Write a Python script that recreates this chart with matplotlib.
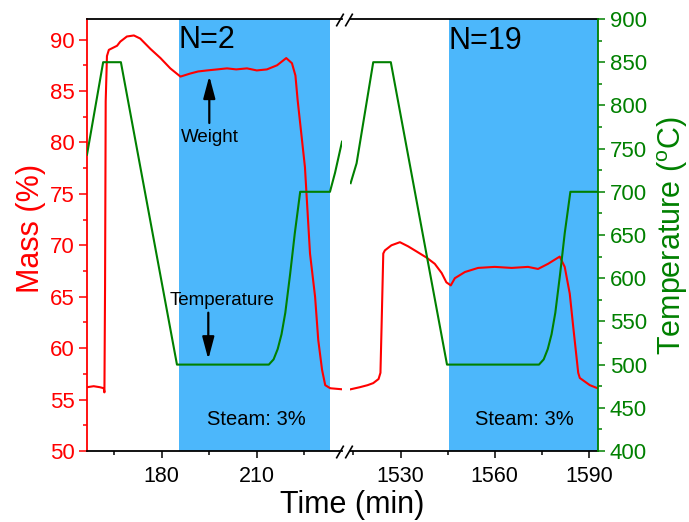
import matplotlib
matplotlib.use('Agg')
import matplotlib.pyplot as plt
from matplotlib.patches import FancyArrowPatch
from matplotlib.lines import Line2D
from matplotlib.ticker import MultipleLocator, FixedLocator

plt.rcParams['font.family'] = ['Liberation Sans', 'DejaVu Sans']
plt.rcParams['mathtext.fontset'] = 'custom'
plt.rcParams['mathtext.rm'] = 'Liberation Sans'
plt.rcParams['mathtext.it'] = 'Liberation Sans:italic'

# ---------------- data ----------------
# left segment (cycle N=2)
mass_t_left = [156.4, 158.5, 160.5, 161.7, 161.9, 162.1, 162.3, 162.7, 163.3, 165.9, 166.9,
               169.0, 171.2, 173.2, 176.4, 179.6, 182.7, 185.9, 189.0, 191.5, 194.3, 197.5,
               200.6, 203.5, 206.9, 210.0, 213.2, 216.4, 219.3, 221.1, 222.2, 222.9, 224.0,
               225.2, 226.8, 228.4, 229.4, 230.6, 231.6, 233.2, 236.9]
mass_left = [56.2, 56.3, 56.2, 56.1, 55.7, 66.0, 84.0, 88.4, 89.0, 89.4, 89.8,
             90.3, 90.4, 90.1, 89.1, 88.2, 87.2, 86.4, 86.7, 86.9, 87.0, 87.1,
             87.2, 87.1, 87.2, 87.0, 87.1, 87.5, 88.2, 87.7, 86.5, 84.1, 81.0,
             77.6, 69.2, 65.0, 60.8, 57.9, 56.4, 56.1, 56.0]
temp_t_left = [156.4, 161.5, 167.1, 184.8, 213.8, 215.3, 216.6, 217.8, 219.0, 220.5, 222.0,
               223.7, 233.1, 234.7, 236.9]
temp_left = [743, 850, 850, 500, 500, 506, 518, 535, 560, 604, 652, 700, 700, 722, 758]

# right segment (cycle N=19)
mass_t_right = [1514.1, 1517.0, 1519.5, 1521.3, 1523.0, 1523.6, 1523.95, 1524.5, 1525.0,
                1527.1, 1529.8, 1532.4, 1535.1, 1538.3, 1540.9, 1543.1, 1544.6, 1546.0,
                1547.3, 1550.5, 1554.7, 1560.0, 1565.4, 1570.6, 1573.8, 1577.0, 1580.7,
                1582.3, 1583.9, 1585.0, 1586.6, 1587.1, 1590.3, 1592.8]
mass_right = [56.0, 56.2, 56.4, 56.6, 57.0, 57.6, 62.0, 69.2, 69.5,
              70.0, 70.3, 69.9, 69.4, 68.8, 68.2, 67.3, 66.4, 66.1,
              66.8, 67.4, 67.8, 67.9, 67.8, 67.9, 67.7, 68.2, 68.9,
              67.9, 65.3, 62.1, 57.6, 57.1, 56.4, 56.1]
temp_t_right = [1514.1, 1516.0, 1521.3, 1526.9, 1544.8, 1574.1, 1575.6, 1576.9, 1578.1,
                1579.3, 1580.8, 1582.3, 1584.1, 1592.8]
temp_right = [710, 733, 850, 850, 500, 500, 506, 518, 535, 560, 604, 652, 700, 700]

steam_left = (185.5, 233.1)
steam_right = (1545.4, 1592.9)

xlim_left = (156.4, 236.9)
xlim_right = (1513.9, 1592.9)
mass_lim = (50, 92)
temp_lim = (400, 900)
mass_ticks = [50, 55, 60, 65, 70, 75, 80, 85, 90]
temp_ticks = [400, 450, 500, 550, 600, 650, 700, 750, 800, 850, 900]
xticks_left = [180, 210]
xticks_left_minor = [165, 195, 225]
xticks_right = [1530, 1560, 1590]
xticks_right_minor = [1515, 1545, 1575]

RED = '#ff0000'
GREEN = '#008000'
BLUE = '#4cb7fb'

# ---------------- figure ----------------
W, H = 689, 522
fig = plt.figure(figsize=(W / 100, H / 100), dpi=100)


def fx(x):
    return x / W


def fy(y):
    return 1 - y / H


L, R = 87, 342
R2L, R2R = 350, 598
T, B = 19, 451

axL = fig.add_axes([fx(L), fy(B), (R - L) / W, (B - T) / H])
axR = fig.add_axes([fx(R2L), fy(B), (R2R - R2L) / W, (B - T) / H])
axL2 = axL.twinx()
axR2 = axR.twinx()

for ax in (axL, axR):
    ax.set_ylim(*mass_lim)
for ax in (axL2, axR2):
    ax.set_ylim(*temp_lim)
axL.set_xlim(*xlim_left)
axR.set_xlim(*xlim_right)

axL.axvspan(*steam_left, color=BLUE, lw=0, zorder=0)
axR.axvspan(*steam_right, color=BLUE, lw=0, zorder=0)

axL.plot(mass_t_left, mass_left, color=RED, lw=1.5)
axR.plot(mass_t_right, mass_right, color=RED, lw=1.5)
axL2.plot(temp_t_left, temp_left, color=GREEN, lw=1.5)
axR2.plot(temp_t_right, temp_right, color=GREEN, lw=1.5)

SW = 1.3
# spines
for ax in (axL, axR, axL2, axR2):
    for s in ax.spines.values():
        s.set_visible(False)
axL.spines['left'].set_visible(True)
axL.spines['left'].set_color(RED)
axL.spines['left'].set_linewidth(SW)
for ax in (axL, axR):
    for side in ('top', 'bottom'):
        ax.spines[side].set_visible(True)
        ax.spines[side].set_color('black')
        ax.spines[side].set_linewidth(SW)
axR2.spines['right'].set_visible(True)
axR2.spines['right'].set_color(GREEN)
axR2.spines['right'].set_linewidth(SW)

# ticks
axL.yaxis.set_major_locator(FixedLocator(mass_ticks))
axL.yaxis.set_minor_locator(MultipleLocator(2.5))
axL.tick_params(axis='y', which='major', direction='out', length=6, width=1.1,
                colors=RED, labelsize=16, pad=3)
axL.tick_params(axis='y', which='minor', direction='out', length=3, width=1.1, colors=RED)
axL.tick_params(axis='y', right=False, which='both')

axR2.yaxis.set_major_locator(FixedLocator(temp_ticks))
axR2.yaxis.set_minor_locator(MultipleLocator(25))
axR2.tick_params(axis='y', which='major', direction='out', length=5, width=1.1,
                 colors=GREEN, labelsize=16, pad=3.5)
axR2.tick_params(axis='y', which='minor', direction='out', length=3, width=1.1, colors=GREEN)

axL2.tick_params(axis='y', which='both', right=False, labelright=False, left=False)
axR.tick_params(axis='y', which='both', left=False, labelleft=False, right=False)

axL.xaxis.set_major_locator(FixedLocator(xticks_left))
axL.xaxis.set_minor_locator(FixedLocator(xticks_left_minor))
axR.xaxis.set_major_locator(FixedLocator(xticks_right))
axR.xaxis.set_minor_locator(FixedLocator(xticks_right_minor))
for ax in (axL, axR):
    ax.tick_params(axis='x', which='major', direction='out', length=5, width=1.1,
                   colors='black', labelsize=15.5, pad=6)
    ax.tick_params(axis='x', which='minor', direction='out', length=3, width=1.1, colors='black')
    ax.tick_params(axis='x', which='both', top=False)

# axis labels
fig.text(fx(31), fy(228), 'Mass (%)', rotation=90, ha='center', va='center',
         color=RED, fontsize=22)
fig.text(fx(673), fy(236), r'Temperature ($^\mathrm{o}$C)', rotation=90, ha='center',
         va='center', color=GREEN, fontsize=22)
fig.text(fx(352), fy(513), 'Time (min)', ha='center', va='baseline', color='black', fontsize=22)

# annotations
fig.text(fx(178.7), fy(48.3), 'N=2', ha='left', va='baseline', fontsize=22)
fig.text(fx(449), fy(49.3), 'N=19', ha='left', va='baseline', fontsize=22)
fig.text(fx(210), fy(142.5), 'Weight', ha='center', va='baseline', fontsize=13.5)
fig.text(fx(222.5), fy(305), 'Temperature', ha='center', va='baseline', fontsize=13.5)
fig.text(fx(256), fy(425), 'Steam: 3%', ha='center', va='baseline', fontsize=14.5)
fig.text(fx(524.7), fy(425), 'Steam: 3%', ha='center', va='baseline', fontsize=14.5)

for (x0, y0, x1, y1) in [(209.3, 123, 209.3, 76), (208.3, 312.7, 208.3, 359.3)]:
    arr = FancyArrowPatch((fx(x0), fy(y0)), (fx(x1), fy(y1)), transform=fig.transFigure,
                          arrowstyle='-|>,head_length=13.5,head_width=3.6',
                          mutation_scale=1, lw=1.6, color='black',
                          shrinkA=0, shrinkB=0)
    fig.add_artist(arr)

# axis-break marks
for yb in (20, 452):
    for xb in (340, 349):
        fig.add_artist(Line2D([fx(xb - 3.3), fx(xb + 3.3)], [fy(yb + 5.7), fy(yb - 5.7)],
                              transform=fig.transFigure, color='black', lw=1.2))

fig.savefig('out.png', dpi=100)
